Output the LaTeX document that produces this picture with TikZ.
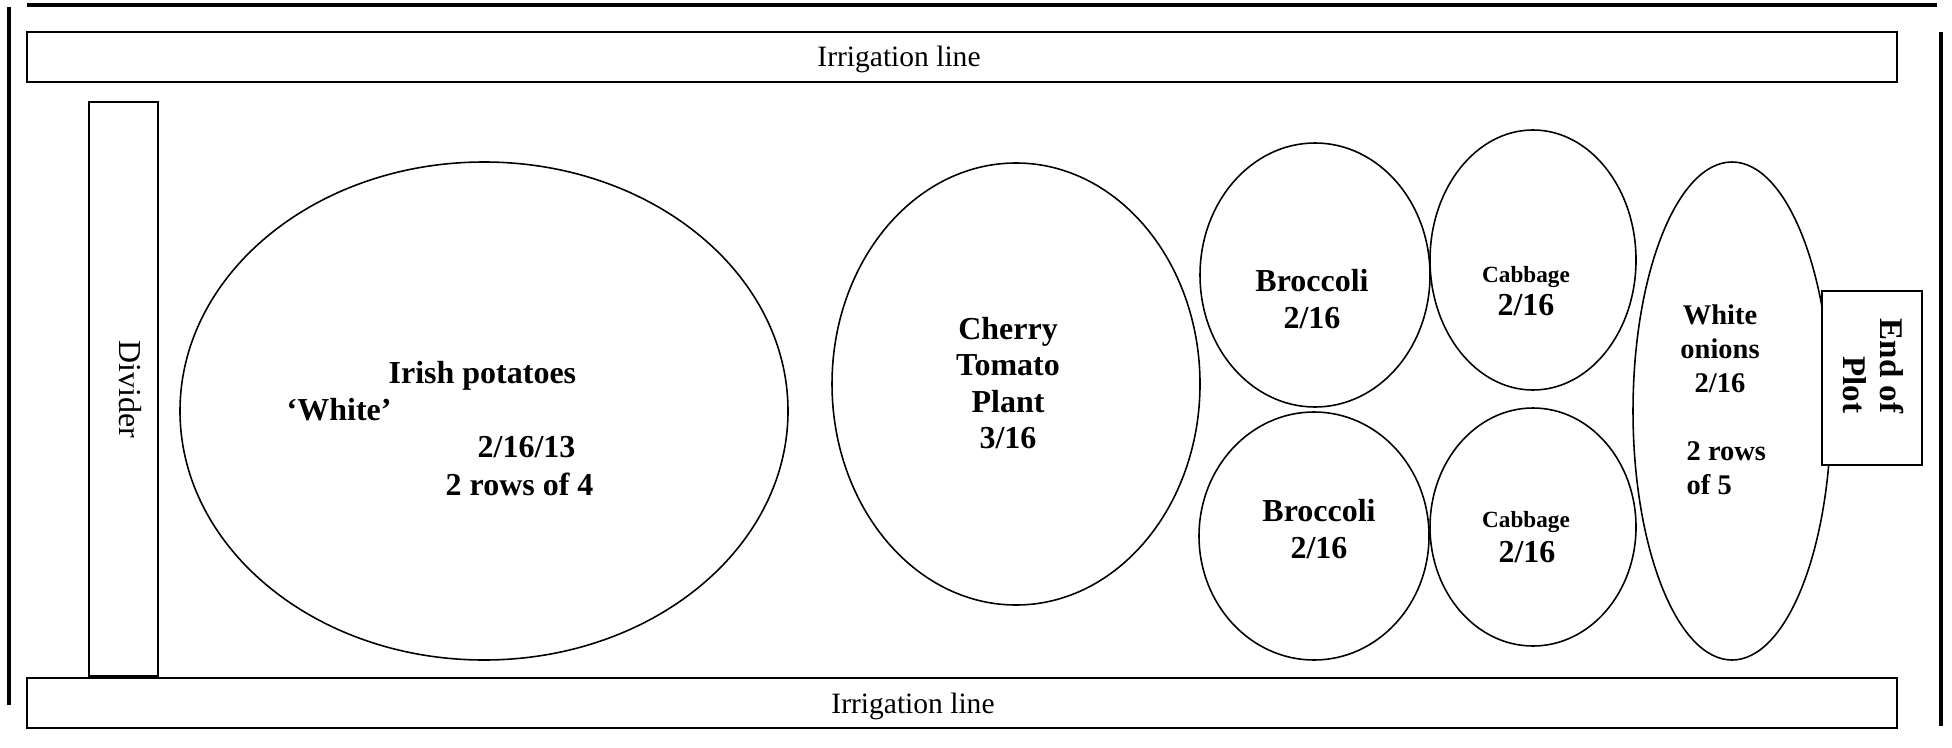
\documentclass[tikz,border=0pt]{standalone}
\usepackage{fontspec}
\setmainfont{Liberation Serif}

\begin{document}
\begin{tikzpicture}[
        plotedge/.style={line width=1.15pt},
        bedline/.style={line width=0.6pt},
        patchline/.style={line width=0.45pt},
        labeltext/.style={inner sep=0pt, font=\fontsize{8.4}{10}\selectfont},
        cropname/.style={inner sep=0pt, align=center, font=\bfseries\fontsize{9.1}{10.4}\selectfont},
        smallname/.style={inner sep=0pt, font=\bfseries\fontsize{6.6}{8}\selectfont}
    ]
        \useasboundingbox (0, 0) rectangle (19.52, 7.47);
        % edges of the plot
        \draw[plotedge] (0.27, 7.42) -- (19.37, 7.42);
        \draw[plotedge] (0.09, 7.40) -- (0.09, 0.42);
        \draw[plotedge] (19.41, 7.15) -- (19.41, 0.21);
        % irrigation lines and divider
        \draw[bedline] (0.27, 6.65) rectangle (18.97, 7.15);
        \draw[bedline] (0.27, 0.19) rectangle (18.97, 0.69);
        \draw[bedline] (0.89, 0.71) rectangle (1.58, 6.45);
        \node[labeltext, anchor=base] (irrtop) at (8.99, 6.80) {Irrigation line};
        \node[labeltext, anchor=base] (irrbot) at (9.13, 0.34) {Irrigation line};
        \node[labeltext, font=\fontsize{9.1}{10.4}\selectfont, rotate=-90] (divider) at (1.30, 3.58) {Divider};
        % beds
        \draw[patchline] (4.84, 3.36) ellipse [x radius=3.04, y radius=2.49];
        \draw[patchline] (10.16, 3.63) ellipse [x radius=1.84, y radius=2.21];
        \draw[patchline] (13.15, 4.72) ellipse [x radius=1.15, y radius=1.32];
        \draw[patchline] (15.33, 4.87) ellipse [x radius=1.03, y radius=1.30];
        \draw[patchline] (13.14, 2.11) ellipse [x radius=1.15, y radius=1.24];
        \draw[patchline] (15.33, 2.20) ellipse [x radius=1.03, y radius=1.19];
        \draw[patchline] (17.32, 3.36) ellipse [x radius=0.99, y radius=2.49];
        % potatoes
        \node[cropname, anchor=base west] (irish) at (3.88, 3.64) {Irish potatoes};
        \node[cropname, anchor=base west] (white) at (2.86, 3.27) {`White'};
        \node[cropname, anchor=base west] (potdate) at (4.77, 2.90) {2/16/13};
        \node[cropname, anchor=base west] (potrows) at (4.45, 2.52) {2 rows of 4};
        % tomato, broccoli, cabbage
        \node[cropname] (tomato) at (10.08, 3.64) {Cherry\\Tomato\\Plant\\3/16};
        \node[cropname] (brocup) at (13.12, 4.48) {Broccoli\\2/16};
        \node[cropname] (broclow) at (13.19, 2.18) {Broccoli\\2/16};
        \node[smallname, anchor=base] (cabup) at (15.26, 4.65) {Cabbage};
        \node[cropname, anchor=base] (cabupdate) at (15.26, 4.32) {2/16};
        \node[smallname, anchor=base] (cablow) at (15.26, 2.20) {Cabbage};
        \node[cropname, anchor=base] (cablowdate) at (15.27, 1.85) {2/16};
        % onions
        \node[cropname, font=\bfseries\fontsize{8.1}{9.7}\selectfont] (onion) at (17.20, 3.98) {White\\onions\\2/16};
        \node[cropname, align=left, anchor=west, font=\bfseries\fontsize{8.1}{9.7}\selectfont] (onionrows) at (16.86, 2.79) {2 rows\\of 5};
        % end of plot
        \draw[bedline, fill=white] (18.22, 2.82) rectangle (19.22, 4.56);
        \node[cropname, align=right, rotate=-90, font=\bfseries\fontsize{9.4}{10.5}\selectfont] (endplot) at (18.73, 3.81) {End of\\Plot};
    \end{tikzpicture}
\end{document}
